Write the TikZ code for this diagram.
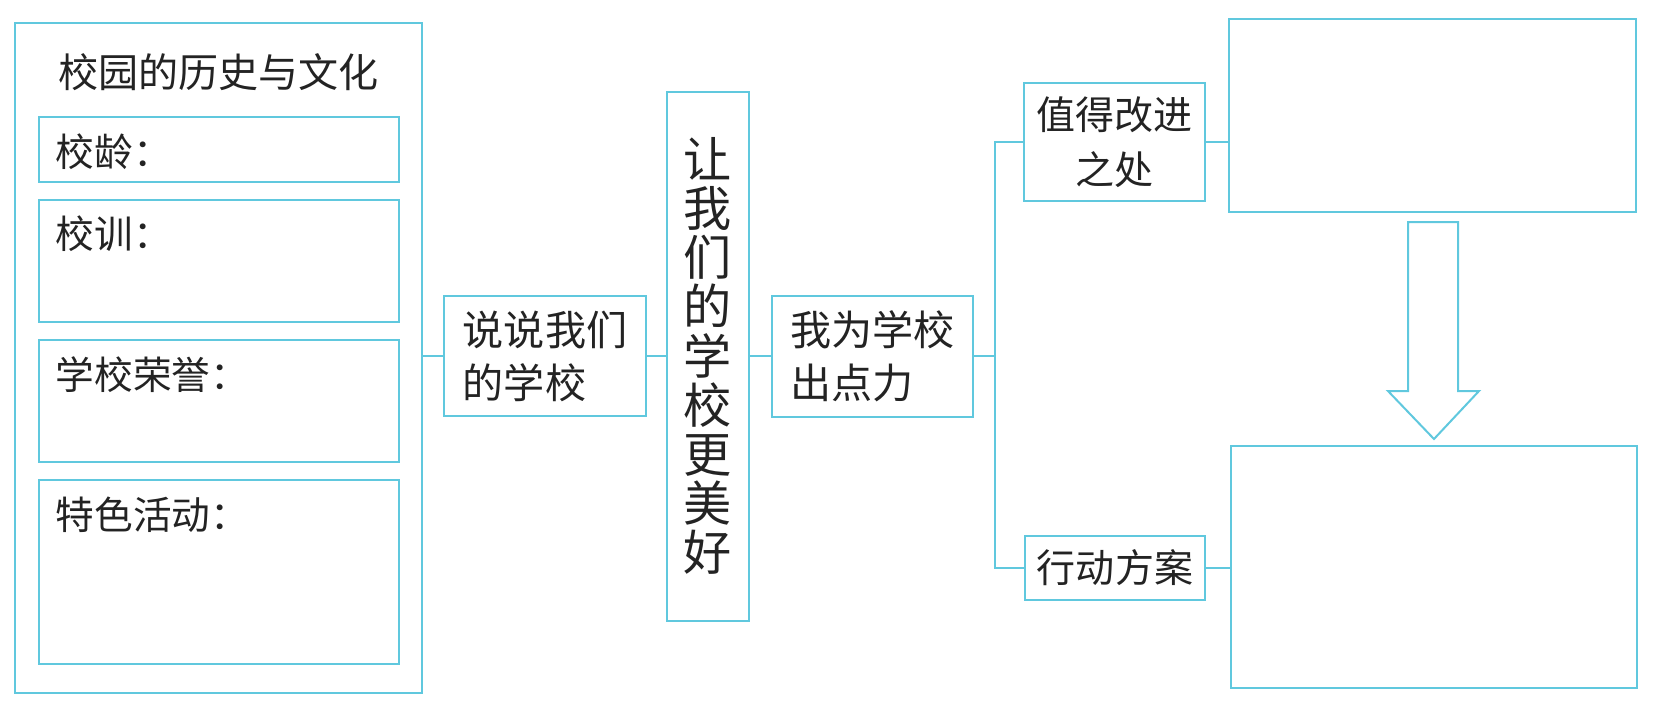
\documentclass[tikz,border=0pt]{standalone}
\usepackage{fontspec}
\newfontfamily\cjk{Noto Sans CJK SC}
\usetikzlibrary{positioning, calc}
\definecolor{FrameCyan}{RGB}{96, 200, 222}
\definecolor{Ink}{RGB}{35, 35, 35}

\begin{document}
\begin{tikzpicture}[x=0.1mm, y=-0.1mm, line width=0.2mm, font=\cjk,
  cbox/.style={draw=FrameCyan, inner sep=0pt, text=Ink},
  lbl/.style={text=Ink, inner sep=0pt, font=\cjk\fontsize{11}{13}\selectfont},
  topic/.style={cbox, align=left, font=\cjk\fontsize{11.7}{15.1}\selectfont},
  side/.style={cbox, align=center, font=\cjk\fontsize{11.1}{15.6}\selectfont},
  link/.style={draw=FrameCyan, line join=miter}]
\useasboundingbox (0,0) rectangle (1660,711);
\node[cbox, minimum width=40.7mm, minimum height=67mm] (hist) at (218.5,358) {};
\node[lbl, font=\cjk\fontsize{11.4}{14}\selectfont] (histt) at (218.5,72) {校园的历史与文化};
\node[cbox, minimum width=36mm, minimum height=6.5mm] (age) at (219,149.5) {};
\node[cbox, minimum width=36mm, minimum height=12.2mm] (motto) at (219,261) {};
\node[cbox, minimum width=36mm, minimum height=12.2mm] (honor) at (219,401) {};
\node[cbox, minimum width=36mm, minimum height=18.4mm] (event) at (219,572) {};
\node[lbl, anchor=west] (aget) at (55,152) {校龄：};
\node[lbl, anchor=west] (mottot) at (55,234) {校训：};
\node[lbl, anchor=west] (honort) at (55,375) {学校荣誉：};
\node[lbl, anchor=west] (eventt) at (55,515) {特色活动：};
\node[topic, minimum width=20.2mm, minimum height=12mm] (talk) at (545,356) {说说我们\\的学校};
\node[cbox, minimum width=8.2mm, minimum height=52.9mm, align=center, font=\cjk\fontsize{13.7}{14}\selectfont] (goal) at (708,356) {让\\我\\们\\的\\学\\校\\更\\美\\好};
\node[topic, minimum width=20.1mm, minimum height=12.1mm] (help) at (872.5,356) {我为学校\\出点力};
\node[side, minimum width=18.1mm, minimum height=11.8mm] (better) at (1114.5,142) {值得改进\\之处};
\node[side, minimum width=18mm, minimum height=6.4mm] (plan) at (1115,568) {行动方案};
\node[cbox, minimum width=40.7mm, minimum height=19.3mm] (fix) at (1432.5,115.5) {};
\node[cbox, minimum width=40.6mm, minimum height=24.2mm] (act) at (1434,567) {};
\coordinate (fork) at (995,356);
\draw[link] (talk.west -| hist.east) -- (talk.west);
\draw[link] (talk.east) -- (goal.west);
\draw[link] (goal.east) -- (help.west);
\draw[link] (help.east) -- (fork);
\draw[link] (better.west) -| (fork) |- (plan.west);
\draw[link] (better.east) -- (better.east -| fix.west);
\draw[link] (plan.east) -- (plan.east -| act.west);
\draw[link] (1408,222) -- (1458,222) -- (1458,391) -- (1479,391) -- ($(act.north)+(0,-6)$) -- (1388,391) -- (1408,391) -- cycle;
\end{tikzpicture}
\end{document}
